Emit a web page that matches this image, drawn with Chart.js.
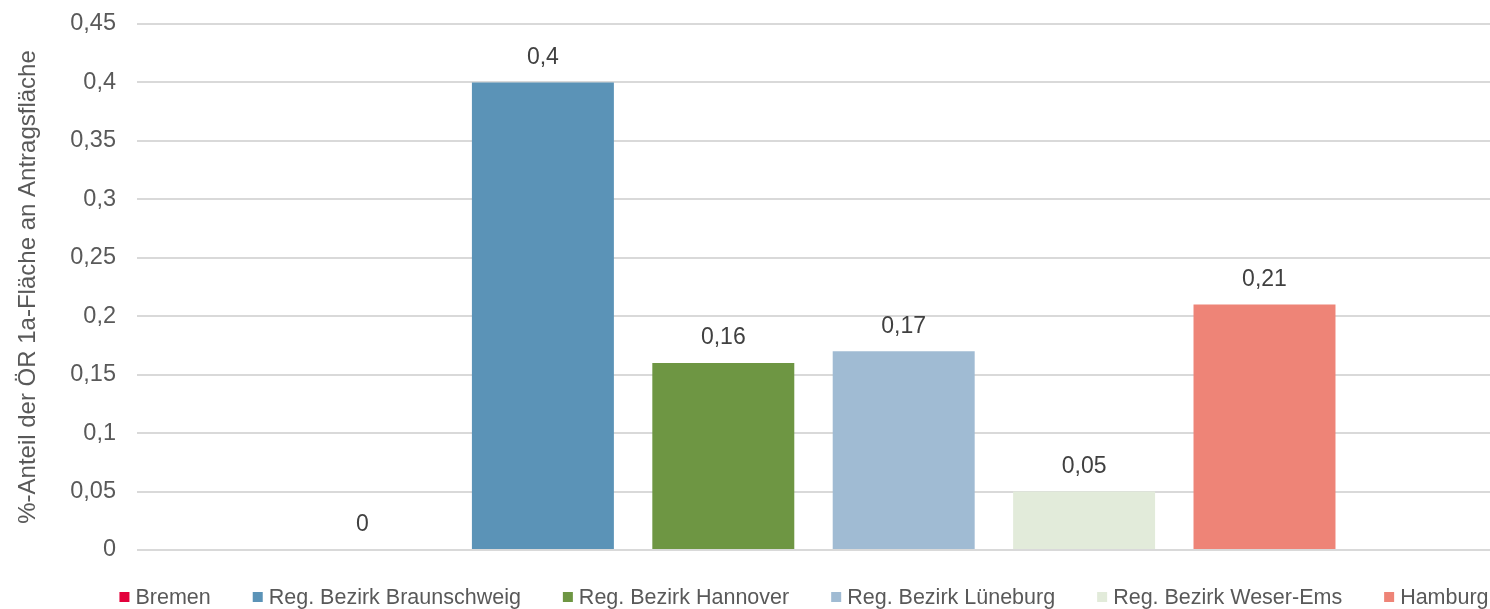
<!DOCTYPE html>
<html lang="de">
<head>
    <meta charset="UTF-8">
    <title>Anteil ÖR 1a-Fläche</title>
    <script src="https://cdn.jsdelivr.net/npm/chart.js"></script>
    <style>
        html, body { margin: 0; padding: 0; background: #fff; }
        #box { width: 1490px; height: 609px; }
    </style>
</head>
<body>
    <div id="box"><canvas id="grafico"></canvas></div>

    <script>
        // Daten aus der Vorlage
        const regionen = ["Bremen", "Reg. Bezirk Braunschweig", "Reg. Bezirk Hannover",
                          "Reg. Bezirk Lüneburg", "Reg. Bezirk Weser-Ems", "Hamburg"];
        const anteile = [0, 0.4, 0.16, 0.17, 0.05, 0.21];
        const farben = ["#e3003b", "#5b93b7", "#6e9643", "#a0bbd3", "#e2ebda", "#ee8477"];
        const kategorien = [""];
        const achsenTitel = "%-Anteil der ÖR 1a-Fläche an Antragsfläche";

        const schrift = "'Liberation Sans', Arial, sans-serif";

        // Zahl mit Komma
        function komma(v) {
            return String(+v.toFixed(2)).replace(".", ",");
        }

        // Werte über den Balken
        const wertePlugin = {
            id: "werte",
            afterDatasetsDraw(chart) {
                const ctx = chart.ctx;
                ctx.save();
                ctx.font = "23px " + schrift;
                ctx.fillStyle = "#404040";
                ctx.textAlign = "center";
                ctx.textBaseline = "middle";
                chart.data.datasets.forEach((ds, i) => {
                    chart.getDatasetMeta(i).data.forEach((bar, j) => {
                        ctx.fillText(komma(ds.data[j]), bar.x, bar.y - 25);
                    });
                });
                ctx.restore();
            }
        };

        // Legende unten, wie in Excel verteilt
        const legendePlugin = {
            id: "legende",
            afterDraw(chart) {
                const ctx = chart.ctx;
                ctx.save();
                ctx.font = "21.5px " + schrift;
                ctx.textBaseline = "middle";
                const abstand = 42, box = 10, luft = 6;
                const breiten = chart.data.datasets.map(ds => box + luft + ctx.measureText(ds.label).width);
                const gesamt = breiten.reduce((a, b) => a + b, 0) + abstand * (breiten.length - 1);
                let x = 804 - gesamt / 2;
                const y = 597;
                chart.data.datasets.forEach((ds, i) => {
                    ctx.fillStyle = ds.backgroundColor;
                    ctx.fillRect(x, y - box / 2, box, box);
                    ctx.fillStyle = "#595959";
                    ctx.fillText(ds.label, x + box + luft, y + 1);
                    x += breiten[i] + abstand;
                });
                ctx.restore();
            }
        };

        const datensaetze = regionen.map((name, i) => ({
            label: name,
            data: [anteile[i]],
            backgroundColor: farben[i],
            categoryPercentage: 0.8,
            barPercentage: 0.787
        }));

        new Chart(document.getElementById("grafico"), {
            type: "bar",
            data: { labels: kategorien, datasets: datensaetze },
            options: {
                responsive: true,
                maintainAspectRatio: false,
                animation: false,
                layout: { padding: { top: 24, bottom: 51, left: 0, right: 0 } },
                plugins: {
                    legend: { display: false },
                    tooltip: { enabled: false }
                },
                scales: {
                    x: {
                        ticks: { display: false },
                        grid: { display: false },
                        border: { display: false }
                    },
                    y: {
                        min: 0,
                        max: 0.45,
                        ticks: {
                            stepSize: 0.05,
                            padding: 0,
                            color: "#595959",
                            font: { family: schrift, size: 23.5 },
                            callback: v => komma(v)
                        },
                        grid: {
                            color: "#d9d9d9",
                            lineWidth: 2,
                            drawTicks: true,
                            tickLength: 21,
                            tickColor: "transparent"
                        },
                        border: { display: false },
                        title: {
                            display: true,
                            text: achsenTitel,
                            color: "#595959",
                            font: { family: schrift, size: 24 },
                            padding: { top: 14, bottom: 0 }
                        },
                        afterFit: s => { s.width = 137; }
                    }
                }
            },
            plugins: [wertePlugin, legendePlugin]
        });
    </script>
</body>
</html>
